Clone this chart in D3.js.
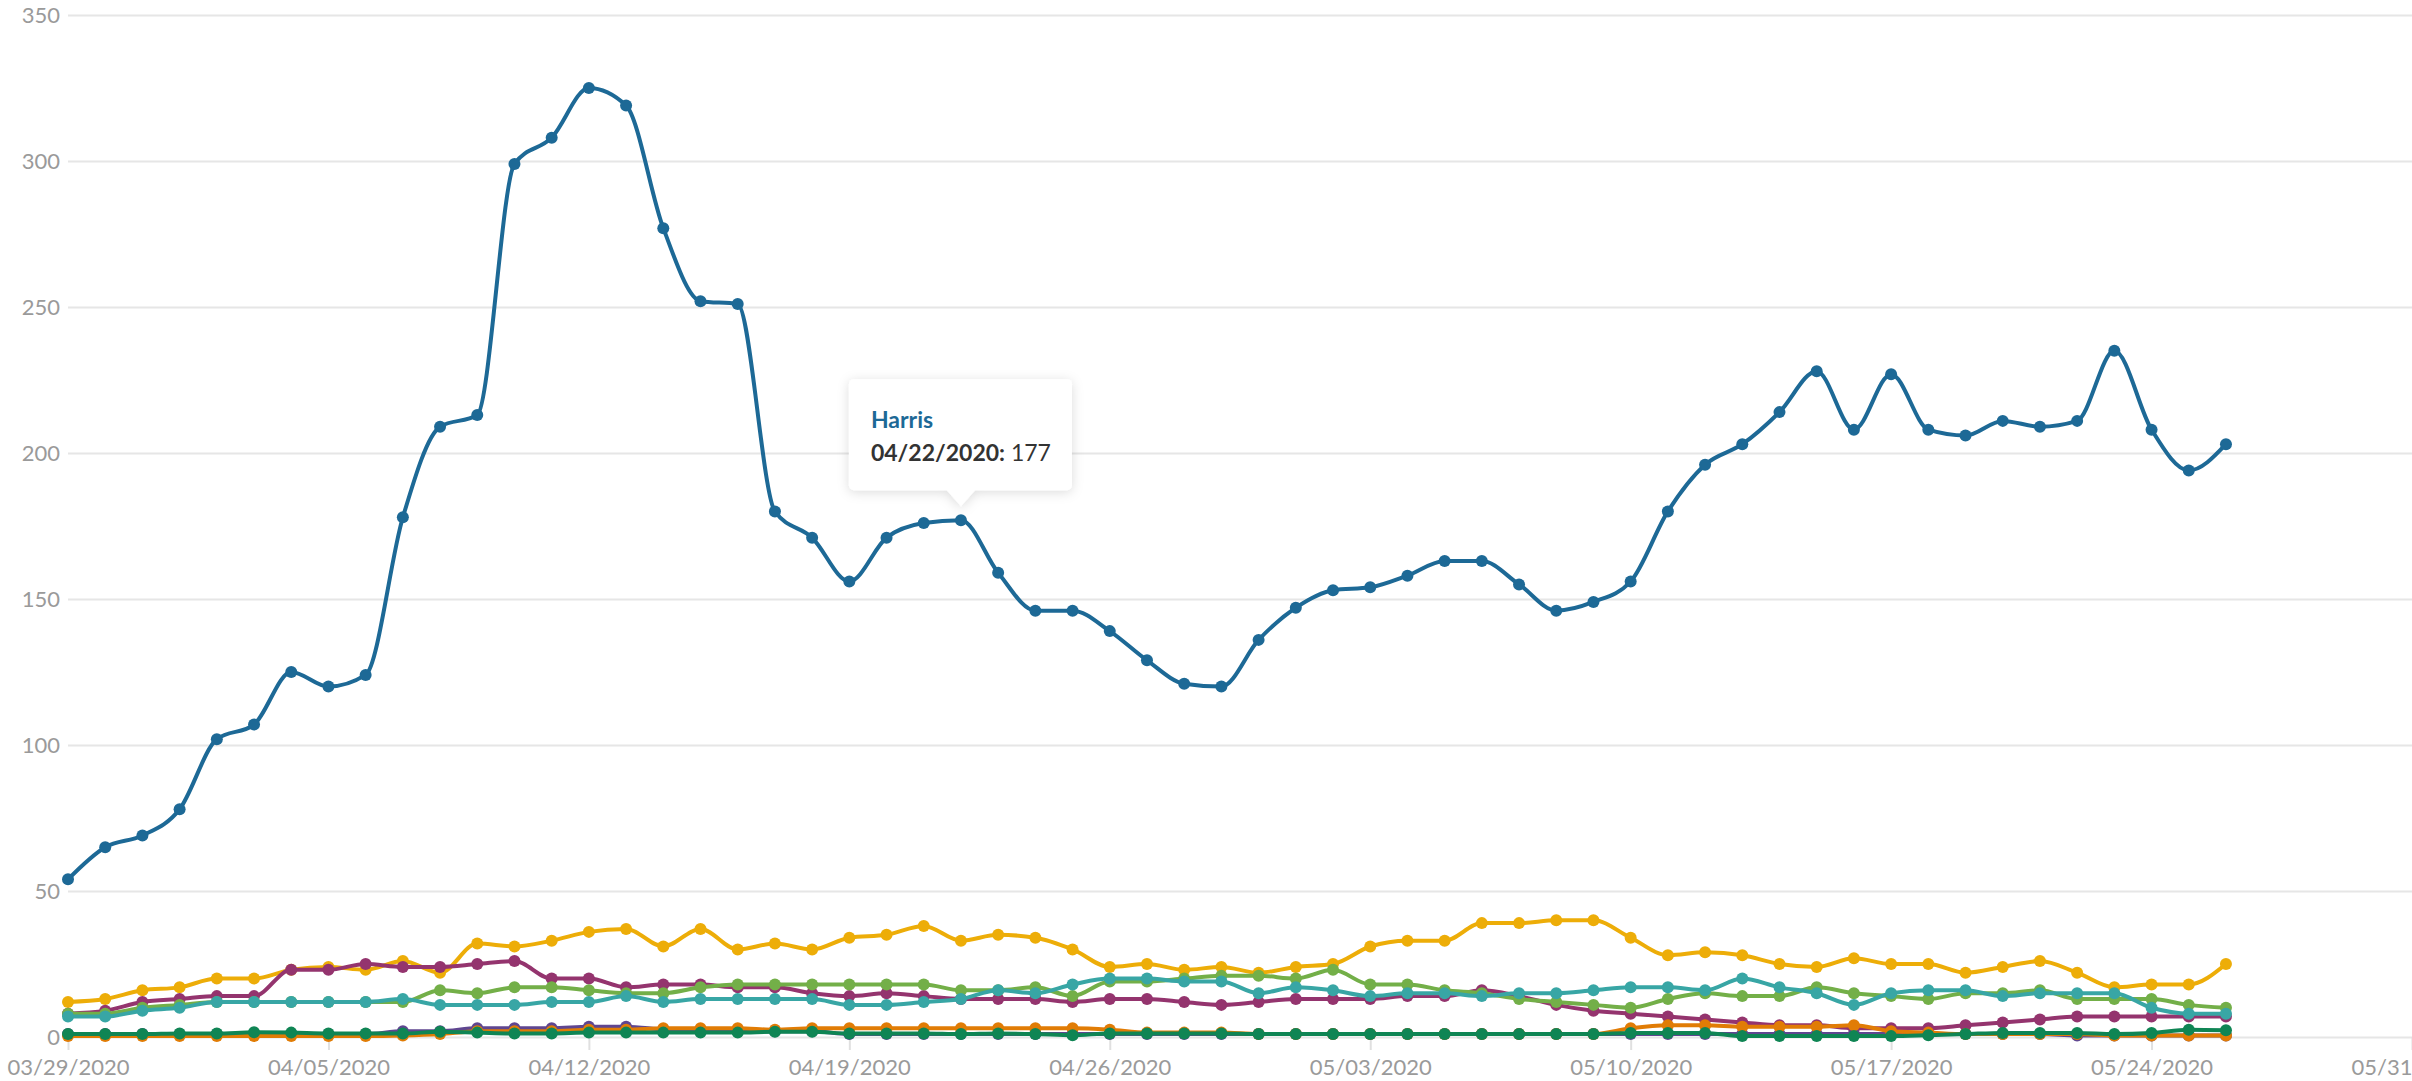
<!DOCTYPE html>
<html>
<head>
<meta charset="utf-8">
<script src="https://cdn.jsdelivr.net/npm/d3@7"></script>
<style>
  body { margin: 0; background: #fff; overflow: hidden; }
  text { font-family: Lato, "Open Sans", sans-serif; }
</style>
</head>
<body>
<div class="lineChart"></div>
<script>
var width = 2412,
    height = 1081;

var margin = {left: 68, top: 15, bottom: 44};

// daily counts, 03/29/2020 .. 05/26/2020
var startDay = "03/29/2020";
var endDay = "05/31/2020";
var tickLabels = ["03/29/2020", "04/05/2020", "04/12/2020", "04/19/2020", "04/26/2020",
                  "05/03/2020", "05/10/2020", "05/17/2020", "05/24/2020", "05/31/2020"];
var yTicks = [0, 50, 100, 150, 200, 250, 300, 350];

var harris = [54,65,69,78,102,107,125,120,124,178,209,213,299,308,325,319,277,252,251,180,
              171,156,171,176,177,159,146,146,139,129,121,120,136,147,153,154,158,163,163,155,
              146,149,156,180,196,203,214,228,208,227,208,206,211,209,211,235,208,194,203];
var yellow = [12,13,16,17,20,20,23,24,23,26,22,32,31,33,36,37,31,37,30,32,
              30,34,35,38,33,35,34,30,24,25,23,24,22,24,25,31,33,33,39,39,
              40,40,34,28,29,28,25,24,27,25,25,22,24,26,22,17,18,18,25];
var maroon = [8,9,12,13,14,14,23,23,25,24,24,25,26,20,20,17,18,18,17,17,
              15,14,15,14,13,13,13,12,13,13,12,11,12,13,13,13,14,14,16,14,
              11,9,8,7,6,5,4,4,3,3,3,4,5,6,7,7,7,7,7];
var green = [8,8,10,11,12,12,12,12,12,12,16,15,17,17,16,15,15,17,18,18,
             18,18,18,18,16,16,17,14,19,19,20,21,21,20,23,18,18,16,15,13,
             12,11,10,13,15,14,14,17,15,14,13,15,15,16,13,13,13,11,10];
var teal = [7,7,9,10,12,12,12,12,12,13,11,11,11,12,12,14,12,13,13,13,
            13,11,11,12,13,16,15,18,20,20,19,19,15,17,16,14,15,15,14,15,
            15,16,17,17,16,20,17,15,11,15,16,16,14,15,15,15,10,8,8];
var purple = [1,1,1,1,1,1,1,1,1,2,2,3,3,3,3.5,3.5,2.5,2,2,2,
              2,1,1,1,1,1,1,1,1,1,1,1,1,1,1,1,1,1,1,1,
              1,1,1,1,1,1,1,1,1,1,1,1,1,1,0.5,0.5,0.5,0.5,0.5];
var orange = [0.3,0.3,0.3,0.3,0.3,0.3,0.3,0.3,0.3,0.5,1,2,2,2,2.5,2.5,3,3,3,2.5,
              3,3,3,3,3,3,3,3,2.5,1.5,1.5,1.5,1,1,1,1,1,1,1,1,
              1,1,3,4,4,3.5,3.5,3.5,4,2,1.5,1,1,1,1,0.5,0.5,0.5,0.5];
var darkGreen = [1,1,1,1.2,1.2,1.6,1.5,1.2,1.2,1.2,1.8,1.5,1.2,1.2,1.5,1.5,1.5,1.5,1.5,1.8,
                 1.8,1.2,1.2,1.2,1,1.2,1,0.6,1.2,1.2,1.2,1.2,1,1,1,1,1,1,1,1,
                 1,1,1.4,1.4,1.4,0.3,0.3,0.3,0.3,0.3,0.6,1,1.4,1.4,1.4,1,1.4,2.5,2.3];

// draw order: later series on top
var series = [harris, yellow, maroon, green, teal, purple, orange, darkGreen];
var seriesNames = ["Harris", "yellow", "maroon", "green", "teal", "purple", "orange", "darkGreen"];
var color = ["#1D6996", "#EDAD08", "#94346E", "#73AF48", "#38A6A5", "#5F4690", "#E17C05", "#0F8554"];

var parseDay = d3.timeParse("%m/%d/%Y");
var formatDay = d3.timeFormat("%m/%d/%Y");
var days = d3.timeDay.range(parseDay(startDay), d3.timeDay.offset(parseDay(startDay), harris.length));

var x = d3.scaleTime()
  .domain([parseDay(startDay), parseDay(endDay)])
  .range([margin.left, width]);

var y = d3.scaleLinear()
  .domain([0, 350])
  .range([height - margin.bottom, margin.top]);

var svg = d3.select(".lineChart")
  .append("svg")
  .attr("width", width)
  .attr("height", height);

var defs = svg.append("defs");
defs.append("filter")
  .attr("id", "shadow")
  .attr("x", "-20%").attr("y", "-20%")
  .attr("width", "140%").attr("height", "150%")
  .append("feDropShadow")
  .attr("dx", 0).attr("dy", 2)
  .attr("stdDeviation", 6)
  .attr("flood-color", "#000")
  .attr("flood-opacity", 0.14);

// gridlines + y labels
var yAxis = svg.append("g")
  .attr("transform", "translate(" + margin.left + ",0)")
  .call(d3.axisLeft(y)
    .tickValues(yTicks)
    .tickSize(-(width - margin.left))
    .tickPadding(8));
yAxis.select(".domain").remove();
yAxis.selectAll("line")
  .attr("stroke", "#e6e6e6")
  .attr("stroke-width", 2);
yAxis.selectAll("text")
  .attr("fill", "#9a9a9a")
  .attr("font-size", "22px");

// x axis
var xAxis = svg.append("g")
  .attr("transform", "translate(0," + y(0) + ")")
  .call(d3.axisBottom(x)
    .tickValues(tickLabels.map(parseDay))
    .tickSize(13)
    .tickPadding(9)
    .tickFormat(formatDay));
xAxis.select(".domain").remove();
xAxis.selectAll("line")
  .attr("stroke", "#e0e0e0")
  .attr("stroke-width", 2);
xAxis.selectAll("text")
  .attr("fill", "#9a9a9a")
  .attr("font-size", "22px");

var line = d3.line()
  .x(function(d, i) { return x(days[i]); })
  .y(function(d) { return y(d); })
  .curve(d3.curveMonotoneX);

var groups = svg.selectAll("g.series")
  .data(series)
  .enter()
  .append("g")
  .attr("class", "series");

groups.append("path")
  .attr("fill", "none")
  .attr("stroke", function(d, i) { return color[i]; })
  .attr("stroke-width", 4)
  .attr("stroke-linejoin", "round")
  .attr("d", line);

groups.each(function(s, k) {
  d3.select(this).selectAll("circle")
    .data(s)
    .enter()
    .append("circle")
    .attr("cx", function(d, i) { return x(days[i]); })
    .attr("cy", function(d) { return y(d); })
    .attr("r", 6)
    .attr("fill", color[k]);
});

// tooltip on Harris, 04/22/2020
var tipIndex = 24;
var px = x(days[tipIndex]),
    py = y(harris[tipIndex]);
var boxW = 223, boxH = 111;
var bx = px - 112, by = py - 141;

var tip = svg.append("g").attr("filter", "url(#shadow)");
tip.append("rect")
  .attr("x", bx).attr("y", by)
  .attr("width", boxW).attr("height", boxH)
  .attr("rx", 5)
  .attr("fill", "#fff");
tip.append("path")
  .attr("d", "M" + (px - 15) + "," + (by + boxH - 1) + "L" + px + "," + (py - 14) + "L" + (px + 15) + "," + (by + boxH - 1) + "Z")
  .attr("fill", "#fff");

svg.append("text")
  .attr("x", bx + 22)
  .attr("y", by + 49)
  .attr("font-size", "23px")
  .attr("font-weight", "bold")
  .attr("fill", color[0])
  .text(seriesNames[0]);

var t2 = svg.append("text")
  .attr("x", bx + 22)
  .attr("y", by + 82)
  .attr("font-size", "23px")
  .attr("fill", "#333");
t2.append("tspan").attr("font-weight", "bold").text(formatDay(days[tipIndex]) + ":");
t2.append("tspan").text(" " + harris[tipIndex]);
</script>
</body>
</html>
